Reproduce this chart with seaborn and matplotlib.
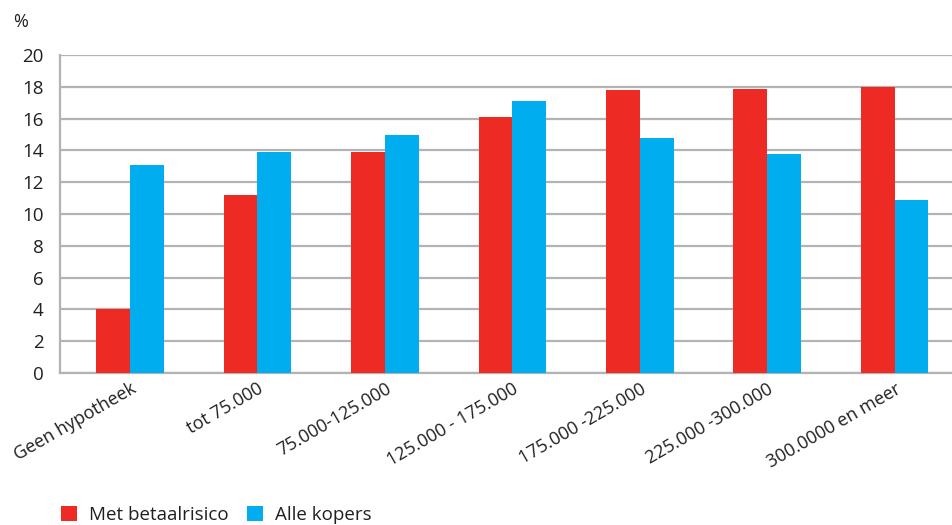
import matplotlib
matplotlib.use("Agg")
import matplotlib.pyplot as plt
import seaborn as sns
import pandas as pd
from matplotlib.patches import Patch

categories = ["Geen hypotheek", "tot 75.000", "75.000-125.000", "125.000 - 175.000",
              "175.000 -225.000", "225.000 -300.000", "300.0000 en meer"]
met_betaalrisico = [4.0, 11.2, 13.9, 16.1, 17.8, 17.9, 18.0]
alle_kopers = [13.1, 13.9, 15.0, 17.1, 14.8, 13.8, 10.9]
series_names = ["Met betaalrisico", "Alle kopers"]
colors = ["#EE2A24", "#00AEEF"]

df = pd.DataFrame({
    "cat": categories * 2,
    "val": met_betaalrisico + alle_kopers,
    "serie": [series_names[0]] * len(categories) + [series_names[1]] * len(categories),
})

sns.set_theme(style="white")
plt.rcParams["font.family"] = ["Open Sans", "DejaVu Sans"]

fig = plt.figure(figsize=(9.52, 5.25), dpi=100)
ax = fig.add_axes([0.063, 0.2895, 0.937, 0.6055])

sns.barplot(data=df, x="cat", y="val", hue="serie", palette=colors,
            width=0.53, saturation=1, ax=ax, legend=False, zorder=3,
            linewidth=0, edgecolor="none")

ax.set_ylim(0, 20)
ax.set_xlim(-0.55, len(categories) - 0.55)
ax.set_yticks(range(0, 21, 2))
ax.yaxis.grid(True, color="#b3b3b3", linewidth=1.6, zorder=0)
ax.set_axisbelow(True)
ax.set_xlabel("")
ax.set_ylabel("")

for s in ["top", "right"]:
    ax.spines[s].set_visible(False)
for s in ["left", "bottom"]:
    ax.spines[s].set_color("#b3b3b3")
    ax.spines[s].set_linewidth(1.6)

ax.tick_params(axis="y", length=0, labelsize=13.5, colors="#231f20", pad=12)
ax.set_xticks(range(len(categories)))
ax.set_xticklabels(categories, rotation=30, ha="right", rotation_mode="anchor",
                   fontsize=13, color="#231f20")
ax.tick_params(axis="x", which="major", length=0, pad=5)
ax.set_xticks([i + 0.5 for i in range(len(categories) - 1)], minor=True)
ax.tick_params(axis="x", which="minor", length=8, width=1.2, color="#b3b3b3", direction="out")

fig.text(0.014, 0.958, "%", fontsize=13, color="#231f20", va="center")

handles = [Patch(facecolor=c, edgecolor="none") for c in colors]
fig.legend(handles, series_names, loc="lower left", bbox_to_anchor=(0.046, -0.03),
           ncol=2, frameon=False, fontsize=13.5, handlelength=0.85, handleheight=0.85,
           handletextpad=0.64, columnspacing=1.0, labelcolor="#231f20")

fig.savefig("out.png", dpi=100)
